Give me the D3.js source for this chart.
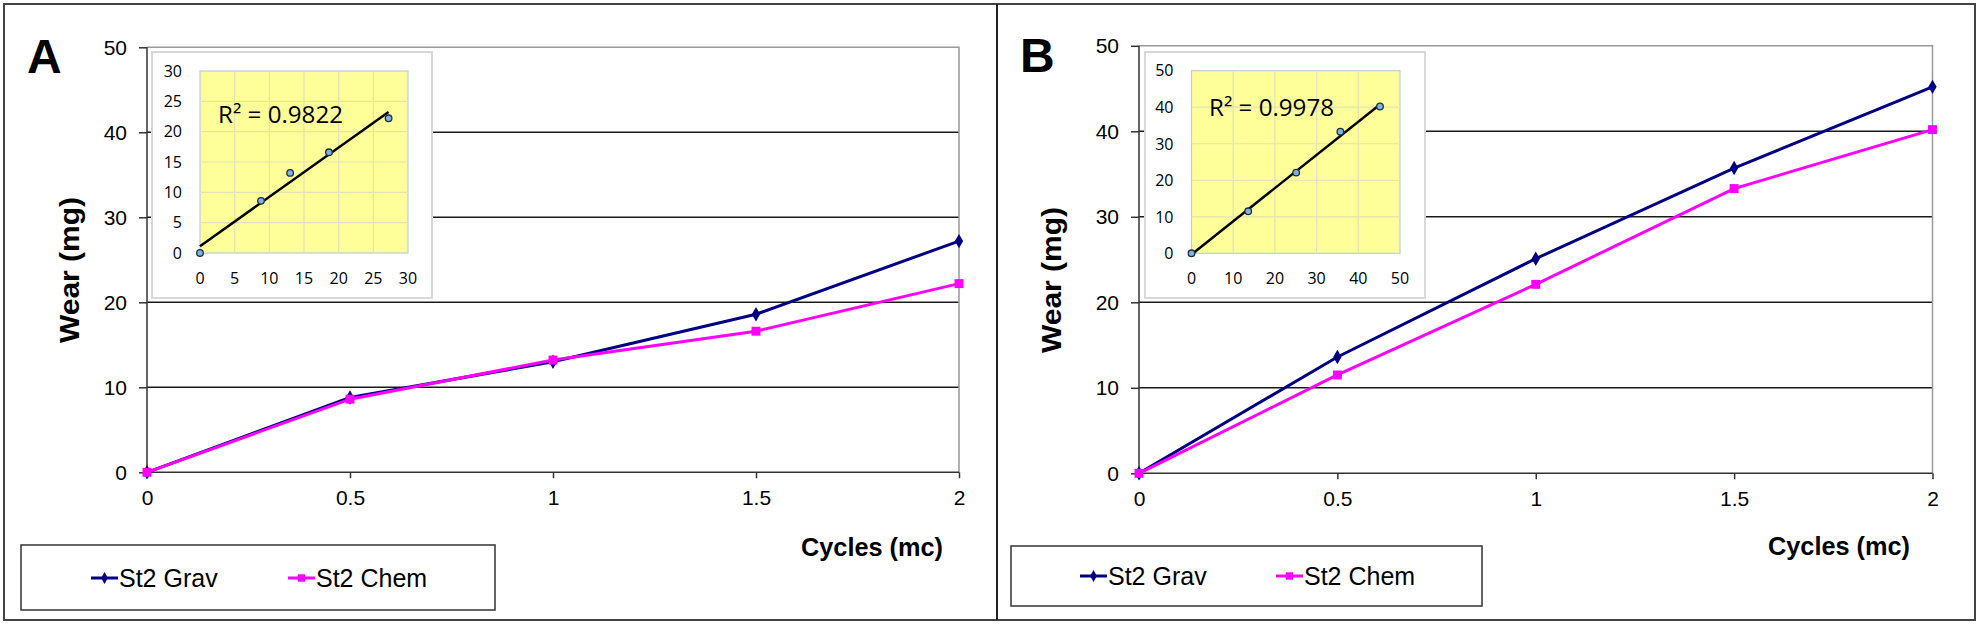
<!DOCTYPE html>
<html><head><meta charset="utf-8">
<script src="https://cdn.jsdelivr.net/npm/d3@7/dist/d3.min.js"></script>
<style>
html,body{margin:0;padding:0;background:#fff;}
svg{display:block;font-family:"Liberation Sans",Arial,sans-serif;}
</style></head>
<body>
<svg id="chart" width="1980" height="626"></svg>
<script>
// ---------- data ----------
const cycles = [0, 0.5, 1, 1.5, 2];
const gravA = [0, 8.8, 13.0, 18.6, 27.2];
const chemA = [0, 8.6, 13.2, 16.6, 22.2];
const gravB = [0, 13.6, 25.1, 35.7, 45.2];
const chemB = [0, 11.5, 22.1, 33.3, 40.2];
const mainXTicks = [0, 0.5, 1, 1.5, 2];
const mainYTicks = [0, 10, 20, 30, 40, 50];
const insetTicksA = [0, 5, 10, 15, 20, 25, 30];
const insetTicksB = [0, 10, 20, 30, 40, 50];
const r2Labels = ["R\u00B2 = 0.9822", "R\u00B2 = 0.9978"];
const panelLabels = ["A", "B"];
const seriesNames = ["St2 Grav", "St2 Chem"];
const xTitle = "Cycles (mc)";
const yTitle = "Wear (mg)";

const GRAV = "#000080", CHEM = "#ff00ff";
const svg = d3.select("#chart");

// outer frame + divider
svg.append("rect").attr("x", 4).attr("y", 4).attr("width", 1971).attr("height", 616)
  .attr("fill", "none").attr("stroke", "#444").attr("stroke-width", 2);
svg.append("line").attr("x1", 997).attr("x2", 997).attr("y1", 4).attr("y2", 620)
  .attr("stroke", "#222").attr("stroke-width", 2);

const panels = [
  {label: panelLabels[0], grav: gravA, chem: chemA, insetTicks: insetTicksA, r2: r2Labels[0],
   px: [147, 959], py: [472.3, 47.3],
   letter: [27, 73],
   ytitle: [69, 270],
   inBox: [152, 52, 432, 298], inPlot: [200, 71, 408, 253], r2pos: [218, 122.5],
   legBox: [21, 545, 495, 610], leg: [91, 288], legY: 578,
   xtitle: [801, 556]},
  {label: panelLabels[1], grav: gravB, chem: chemB, insetTicks: insetTicksB, r2: r2Labels[1],
   px: [1139, 1932.5], py: [473.3, 45.8],
   letter: [1020, 72],
   ytitle: [1051, 280],
   inBox: [1145, 52, 1425, 298], inPlot: [1191.5, 70.7, 1400, 253.3], r2pos: [1209, 115.5],
   legBox: [1011, 546, 1482, 606], leg: [1080, 1276], legY: 576,
   xtitle: [1768, 555]}
];

const diamond = d3.symbol().type(d3.symbolDiamond).size(60);
const square = d3.symbol().type(d3.symbolSquare).size(80);

panels.forEach(p => {
  const g = svg.append("g");
  const x = d3.scaleLinear().domain([0, 2]).range(p.px);
  const y = d3.scaleLinear().domain([0, 50]).range(p.py);

  // panel letter
  g.append("text").attr("x", p.letter[0]).attr("y", p.letter[1])
    .attr("font-size", 48).attr("font-weight", "bold").text(p.label);

  // gridlines
  g.selectAll(".grid").data(mainYTicks.filter(v => v > 0 && v < 50)).join("line")
    .attr("x1", p.px[0]).attr("x2", p.px[1]).attr("y1", d => y(d)).attr("y2", d => y(d))
    .attr("stroke", "#1a1a1a").attr("stroke-width", 1.5);
  // top and right border
  g.append("path").attr("d", `M${p.px[0]},${y(50)}H${p.px[1]}V${y(0)}`)
    .attr("fill", "none").attr("stroke", "#999").attr("stroke-width", 1.5);

  // axes
  const ya = d3.axisLeft(y).tickValues(mainYTicks).tickSize(8).tickPadding(12).tickFormat(d3.format("d"));
  const yg = g.append("g").attr("transform", `translate(${p.px[0]},0)`).call(ya);
  const xa = d3.axisBottom(x).tickValues(mainXTicks).tickSize(6).tickPadding(12).tickFormat(d => String(d));
  const xg = g.append("g").attr("transform", `translate(0,${y(0)})`).call(xa);
  [yg, xg].forEach(a => {
    a.select(".domain").attr("stroke", "#333").attr("stroke-width", 1.5);
    a.selectAll(".tick line").attr("stroke", "#333").attr("stroke-width", 1.5);
    a.selectAll("text").attr("font-size", 21).attr("fill", "#000")
      .attr("font-family", "Liberation Sans, Arial, sans-serif");
  });
  xg.select(".domain").attr("d", `M${p.px[0]},0H${p.px[1]}`);
  yg.select(".domain").attr("d", `M0,${y(50)}V${y(0)}`);

  // axis titles
  g.append("text").attr("transform", `translate(${p.ytitle[0]},${p.ytitle[1]}) rotate(-90)`)
    .attr("text-anchor", "middle").attr("dy", "0.35em").attr("font-size", 28).attr("font-weight", "bold")
    .attr("textLength", 146).attr("lengthAdjust", "spacingAndGlyphs").text(yTitle);
  g.append("text").attr("x", p.xtitle[0]).attr("y", p.xtitle[1])
    .attr("font-size", 25).attr("font-weight", "bold")
    .attr("textLength", 142).attr("lengthAdjust", "spacingAndGlyphs").text(xTitle);

  // series lines
  const series = [{vals: p.grav, color: GRAV, sym: diamond}, {vals: p.chem, color: CHEM, sym: square}];
  const line = d3.line().x((d, i) => x(cycles[i])).y(d => y(d));
  series.forEach(s => {
    g.append("path").datum(s.vals).attr("d", line).attr("fill", "none")
      .attr("stroke", s.color).attr("stroke-width", 3);
  });
  series.forEach(s => {
    g.selectAll(null).data(s.vals).join("path")
      .attr("transform", (d, i) => `translate(${x(cycles[i])},${y(d)})`)
      .attr("d", s.sym).attr("fill", s.color);
  });

  // legend
  g.append("rect").attr("x", p.legBox[0]).attr("y", p.legBox[1])
    .attr("width", p.legBox[2] - p.legBox[0]).attr("height", p.legBox[3] - p.legBox[1])
    .attr("fill", "#fff").attr("stroke", "#333").attr("stroke-width", 1.5);
  series.forEach((s, i) => {
    const lx = p.leg[i];
    g.append("line").attr("x1", lx).attr("x2", lx + 27).attr("y1", p.legY).attr("y2", p.legY)
      .attr("stroke", s.color).attr("stroke-width", 3);
    g.append("path").attr("transform", `translate(${lx + 13.5},${p.legY})`)
      .attr("d", i === 0 ? d3.symbol().type(d3.symbolDiamond).size(40) : d3.symbol().type(d3.symbolSquare).size(55))
      .attr("fill", s.color);
    g.append("text").attr("x", lx + 28).attr("y", p.legY + 8.5).attr("font-size", 25)
      .text(seriesNames[i]);
  });

  // inset
  const ib = p.inBox, ip = p.inPlot;
  g.append("rect").attr("x", ib[0]).attr("y", ib[1]).attr("width", ib[2] - ib[0]).attr("height", ib[3] - ib[1])
    .attr("fill", "#fff").attr("stroke", "#d9d9d9").attr("stroke-width", 2);
  const imax = p.insetTicks[p.insetTicks.length - 1];
  const ix = d3.scaleLinear().domain([0, imax]).range([ip[0], ip[2]]);
  const iy = d3.scaleLinear().domain([0, imax]).range([ip[3], ip[1]]);
  g.append("rect").attr("x", ip[0]).attr("y", ip[1]).attr("width", ip[2] - ip[0]).attr("height", ip[3] - ip[1])
    .attr("fill", "#ffff99").attr("stroke", "#b8cce4").attr("stroke-width", 1.2);
  g.selectAll(null).data(p.insetTicks.slice(1, -1)).join("line")
    .attr("x1", d => ix(d)).attr("x2", d => ix(d)).attr("y1", ip[1]).attr("y2", ip[3])
    .attr("stroke", "#e2e2b4").attr("stroke-width", 1.2);
  g.selectAll(null).data(p.insetTicks.slice(1, -1)).join("line")
    .attr("y1", d => iy(d)).attr("y2", d => iy(d)).attr("x1", ip[0]).attr("x2", ip[2])
    .attr("stroke", "#e2e2b4").attr("stroke-width", 1.2);
  g.selectAll(null).data(p.insetTicks).join("text")
    .attr("x", ip[0] - 18).attr("y", d => iy(d)).attr("dy", "0.36em").attr("text-anchor", "end")
    .attr("font-family", "Open Sans, sans-serif").attr("font-size", 16).text(d => d);
  g.selectAll(null).data(p.insetTicks).join("text")
    .attr("x", d => ix(d)).attr("y", 278).attr("dy", "0.36em").attr("text-anchor", "middle")
    .attr("font-family", "Open Sans, sans-serif").attr("font-size", 16).text(d => d);

  // regression (chem vs grav)
  const xs = p.grav, ys = p.chem;
  const mx = d3.mean(xs), my = d3.mean(ys);
  const sxy = d3.sum(xs, (v, i) => (v - mx) * (ys[i] - my));
  const sxx = d3.sum(xs, v => (v - mx) * (v - mx));
  const slope = sxy / sxx, icpt = my - slope * mx;
  const xMax = d3.max(xs);
  g.append("line").attr("x1", ix(0)).attr("y1", iy(icpt)).attr("x2", ix(xMax)).attr("y2", iy(icpt + slope * xMax))
    .attr("stroke", "#000").attr("stroke-width", 2.5);
  g.selectAll(null).data(xs).join("circle")
    .attr("cx", d => ix(d)).attr("cy", (d, i) => iy(ys[i])).attr("r", 3.3)
    .attr("fill", "#7fb2e0").attr("stroke", "#1f2f40").attr("stroke-width", 1.3);
  g.append("text").attr("x", p.r2pos[0]).attr("y", p.r2pos[1])
    .attr("font-family", "Open Sans, sans-serif").attr("font-size", 24)
    .attr("textLength", 125).attr("lengthAdjust", "spacingAndGlyphs").text(p.r2);
});
</script>
</body></html>
